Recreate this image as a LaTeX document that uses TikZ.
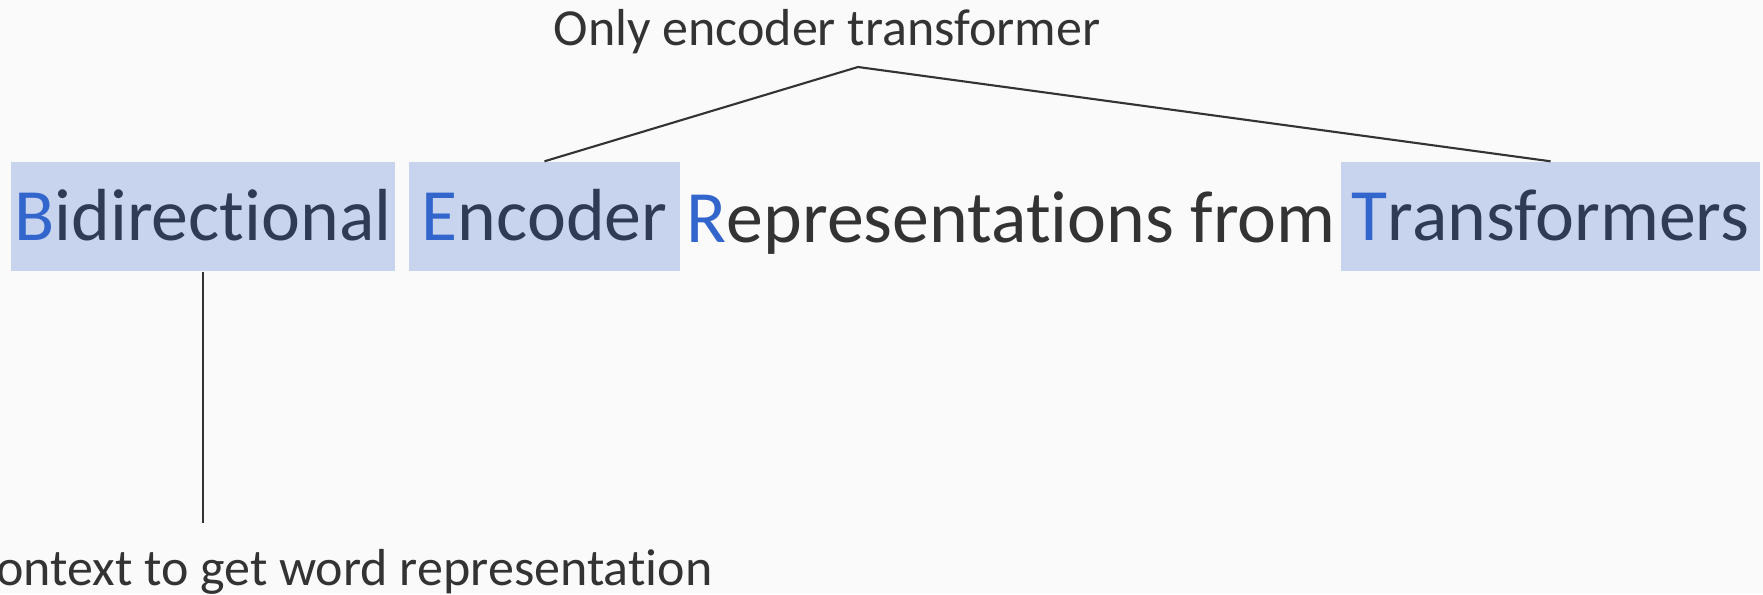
\documentclass[tikz,border=0pt]{standalone}
\usepackage{fontspec}
\usepackage{tikz}
\setmainfont{Carlito}[RawFeature={-liga}]

\definecolor{bgcol}{HTML}{FAFAFA}
\definecolor{hlblue}{HTML}{C8D4EE}
\definecolor{initblue}{HTML}{3366CC}
\definecolor{navytext}{HTML}{2F3B55}
\definecolor{greytext}{HTML}{333333}

\begin{document}
\begin{tikzpicture}[x = 0.1mm, y = -0.1mm,
		every node/.style = {inner sep = 0pt},
		hlword/.style = {fill = hlblue, text = navytext, minimum height = 10.9mm, text height = 4.7mm, text depth = 0pt},
		bigtext/.style = {font = \fontsize{21}{25}\selectfont},
		smalltext/.style = {font = \fontsize{14.8}{18}\selectfont, text = greytext},
		link/.style = {draw = greytext, line width = 0.6pt}]
		\useasboundingbox (0, 0) rectangle (1763, 594);
		\fill[bgcol] (0, 0) rectangle (1763, 594);
		% highlighted words of the acronym
		\foreach \name/\cx/\w/\ini/\rest in {bid/203/38.4/B/idirectional, enc/544.5/27.1/E/ncoder, trf/1550.5/41.9/T/ransformers}
			\node[hlword, bigtext, minimum width = \w mm] (\name) at (\cx, 216.5) {\textcolor{initblue}{\ini}\rest};
		\node[bigtext, text = greytext, anchor = base west] (rep) at (686, 242) {\textcolor{initblue}{R}epresentations from};
		% labels
		\node[smalltext, anchor = base] (only) at (827, 45) {Only encoder transformer};
		\node[smalltext, anchor = base east] (ctx) at (713, 585) {context to get word representation};
		\coordinate (apex) at (858, 67);
		\coordinate (foot) at (203, 523);
		\draw[link] (enc.north) -- (apex) -- (trf.north);
		\draw[link] (bid.south) -- (foot);
	\end{tikzpicture}
\end{document}
